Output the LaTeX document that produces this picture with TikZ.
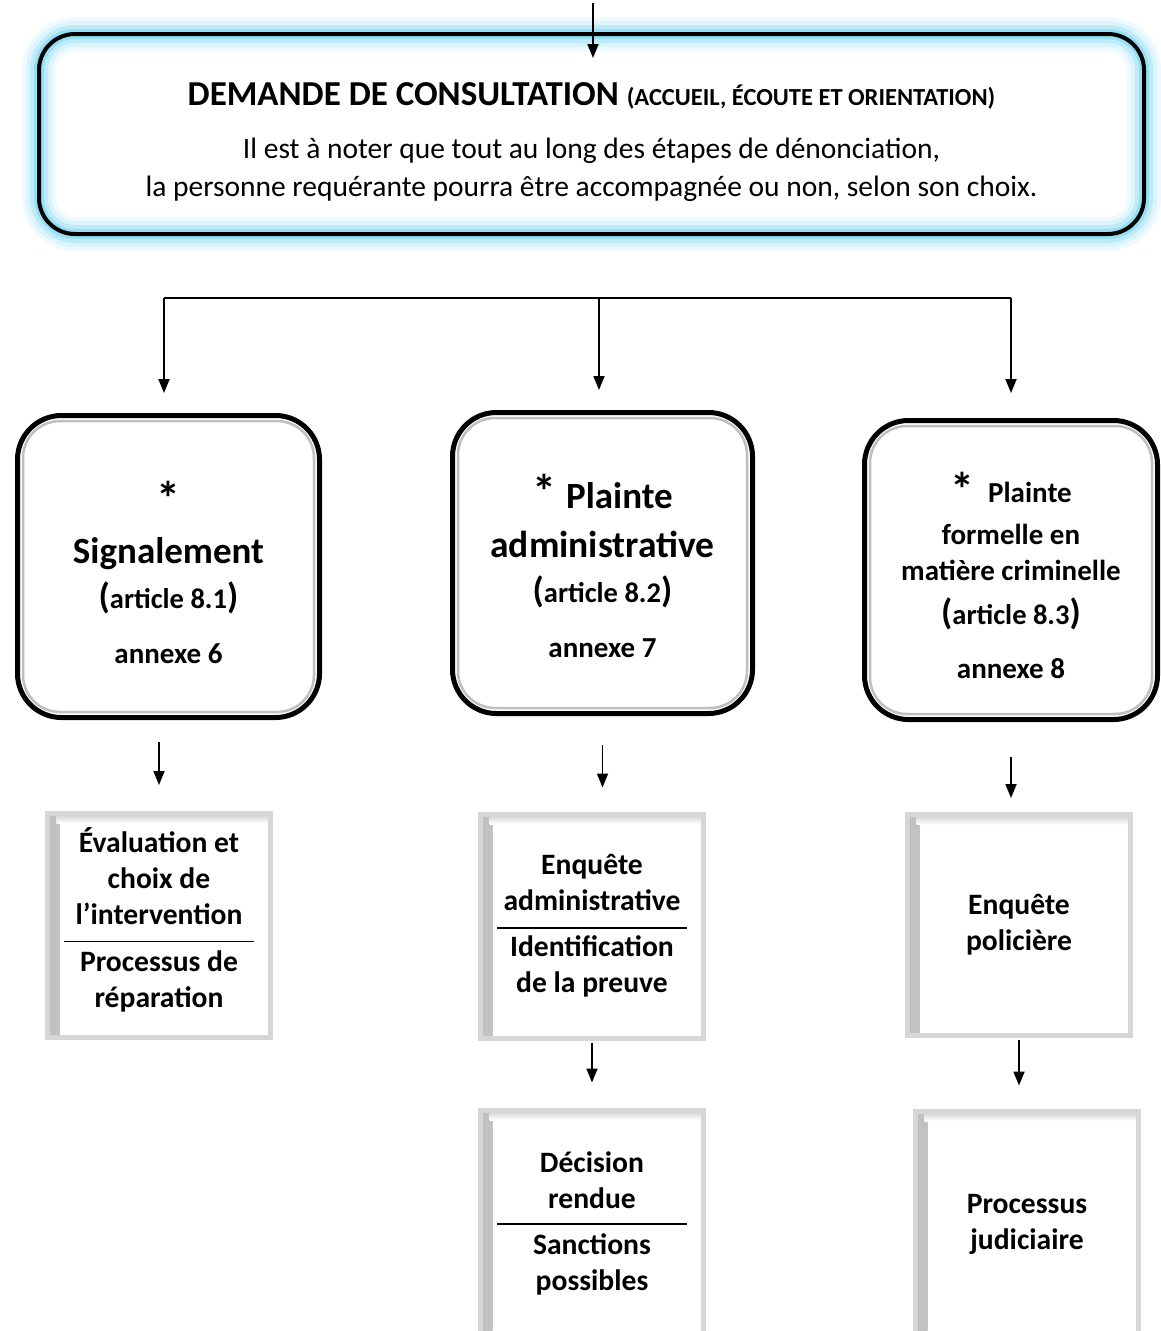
\documentclass[tikz,border=0pt]{standalone}
\usepackage{fontspec}
\setmainfont{Carlito}
\usetikzlibrary{arrows.meta}

\definecolor{glowblue}{RGB}{95,205,240}
\definecolor{rimgray}{RGB}{214,214,214}

\tikzset{
  flow/.style={-{Triangle[length=14pt,width=11pt]}, line width=1.8pt},
  branch/.style={line width=1.8pt},
  consult/.style={draw=black, line width=4pt, rounded corners=36pt,
    minimum width=1105pt, minimum height=200pt, align=center,
    font=\fontsize{29.5}{38}\selectfont,
    preaction={draw=glowblue!10, line width=34pt},
    preaction={draw=glowblue!22, line width=26pt},
    preaction={draw=glowblue!40, line width=18pt},
    preaction={draw=glowblue!65, line width=10pt}},
  voie/.style={draw=black, fill=white, line width=5pt, rounded corners=44pt,
    align=center},
  innerrim/.style={draw=gray!50, line width=2.5pt, rounded corners=37pt},
  etape/.style={draw=rimgray, fill=white, line width=5pt, minimum width=223pt,
    minimum height=224pt, align=center, font=\bfseries\fontsize{29.6}{36}\selectfont,
    path picture={
      \shade[left color=gray!50, right color=white]
        (path picture bounding box.north west) rectangle
        ([xshift=12pt]path picture bounding box.south west);
      \shade[top color=gray!40, bottom color=white]
        ([xshift=9pt]path picture bounding box.north west) rectangle
        ([yshift=-10pt]path picture bounding box.north east);
    }}
}

\begin{document}
\begin{tikzpicture}[x=1pt, y=-1pt]
  \useasboundingbox (0,0) rectangle (1161,1331);
  \clip (0,0) rectangle (1161,1331);

  \node[consult] (consult) at (591.5,134) {%
    \rule{0pt}{40pt}{\bfseries\fontsize{35}{38}\selectfont DEMANDE DE CONSULTATION
     \fontsize{24.5}{38}\selectfont(ACCUEIL, ÉCOUTE ET ORIENTATION)}\\[15pt]
    Il est à noter que tout au long des étapes de dénonciation,\\
    la personne requérante pourra être accompagnée ou non, selon son choix.};
  \coordinate (haut) at (593,3);
  \coordinate (pointe) at (593,58);
  \draw[flow] (haut) -- (pointe);

  % les trois voies
  \node[voie, minimum width=302pt, minimum height=302pt,
    font=\bfseries\fontsize{29}{45}\selectfont] (sig) at (168.5,566.5) {%
    {\fontsize{48}{45}\selectfont\raisebox{-12pt}[\height][\depth]{*}}\\[15pt]
    {\fontsize{37}{45}\selectfont Signalement}\\
    {\fontsize{36}{45}\selectfont(}{\fontsize{28.5}{45}\selectfont article 8.1}{\fontsize{36}{45}\selectfont)}\\[10pt]
    annexe 6};
  \node[voie, minimum width=300pt, minimum height=301pt,
    font=\bfseries\fontsize{29}{45}\selectfont] (adm) at (602.5,563) {%
    {\fontsize{48}{45}\selectfont\raisebox{0pt}[\dimexpr\height+6pt\relax][\depth]{*}\hspace{10pt}\fontsize{37}{45}\selectfont Plainte}\\[4pt]
    {\fontsize{37.5}{45}\selectfont administrative}\\
    {\fontsize{36}{45}\selectfont(}{\fontsize{28.5}{45}\selectfont article 8.2}{\fontsize{36}{45}\selectfont)}\\[10pt]
    annexe 7};
  \node[voie, minimum width=293pt, minimum height=299pt,
    font=\bfseries\fontsize{29}{36}\selectfont] (crim) at (1011,570) {%
    {\fontsize{48}{36}\selectfont\raisebox{-4pt}[\dimexpr\height+6pt\relax][\depth]{*}\hspace{14pt}\fontsize{29}{36}\selectfont Plainte}\\[6pt]
    formelle en\\
    matière criminelle\\[8pt]
    {\fontsize{36}{36}\selectfont(}{\fontsize{28.5}{36}\selectfont article 8.3}{\fontsize{36}{36}\selectfont)}\\[18pt]
    annexe 8};
  \foreach \v in {sig,adm,crim}
    \draw[innerrim] ([xshift=8pt,yshift=-8pt]\v.north west) rectangle ([xshift=-8pt,yshift=8pt]\v.south east);

  \coordinate (b1) at (164,298);
  \coordinate (b2) at (599,298);
  \coordinate (b3) at (1011,298);
  \draw[branch] (b1) -- (b3);
  \draw[flow, shorten >=20pt] (b1) -- (b1 |- sig.north);
  \draw[flow, shorten >=20pt] (b2) -- (b2 |- adm.north);
  \draw[flow, shorten >=25pt] (b3) -- (b3 |- crim.north);

  % etapes suivantes
  \node[etape] (eval) at (159,925.5) {%
    Évaluation et\\choix de\\l’intervention\\[-18pt]\rule{190pt}{1.6pt}\\[-7pt]Processus de\\réparation\rule[-16pt]{0pt}{1pt}};
  \node[etape] (enq) at (592,926) {%
    Enquête\\administrative\\[-18pt]\rule{190pt}{1.6pt}\\[-8pt]Identification\\de la preuve};
  \node[etape, minimum height=226pt] (dec) at (592,1223) {%
    Décision\\rendue\\[-19pt]\rule{190pt}{1.6pt}\\[-7pt]Sanctions\\possibles};
  \node[etape, minimum height=221pt] (pol) at (1019,925) {Enquête\\policière};
  \node[etape, minimum height=226pt] (jud) at (1027,1224) {Processus\\judiciaire};

  \draw[flow, shorten <=22pt, shorten >=26pt] (eval.north |- sig.south) -- (eval.north);
  \draw[flow, shorten <=29pt, shorten >=24pt] (adm.south) -- (adm.south |- enq.north);
  \draw[flow, shorten <=2pt, shorten >=25pt] (enq.south) -- (dec.north);
  \draw[flow, shorten <=35pt, shorten >=14pt] (crim.south) -- (crim.south |- pol.north);
  \draw[flow, shorten <=2pt, shorten >=23pt] (pol.south) -- (pol.south |- jud.north);
\end{tikzpicture}
\end{document}
